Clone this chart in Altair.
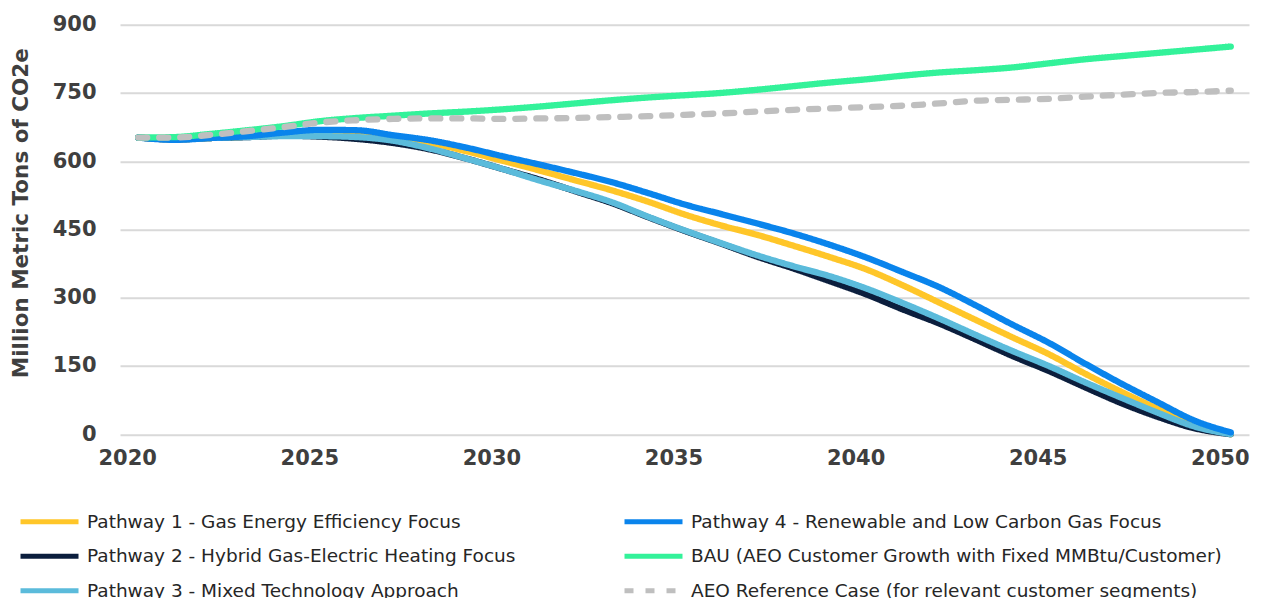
import altair as alt
import pandas as pd

years = list(range(2020, 2051))

p1 = [652, 648, 651, 654, 660, 662, 659, 650, 640, 622, 601, 580, 558, 536, 511, 483,
      459, 438, 414, 389, 362, 327, 289, 251, 213, 176, 133, 93, 56, 24, 0]
p2 = [652, 648, 651, 653, 656, 654, 649, 640, 626, 606, 583, 560, 534, 508, 477, 447,
      419, 390, 364, 336, 307, 274, 243, 208, 172, 139, 103, 68, 38, 13, 0]
p3 = [652, 648, 651, 653, 655, 655, 653, 645, 628, 606, 583, 558, 535, 510, 478, 448,
      420, 393, 369, 347, 320, 288, 254, 218, 183, 150, 114, 80, 47, 17, 0]
p4 = [652, 647, 651, 655, 663, 669, 668, 657, 646, 630, 611, 593, 574, 554, 530, 505,
      484, 463, 441, 416, 388, 356, 323, 283, 241, 201, 155, 111, 70, 30, 4]
bau = [652, 653, 660, 668, 677, 688, 695, 700, 705, 709, 714, 720, 727, 734, 740, 745,
       750, 757, 765, 773, 780, 788, 795, 800, 806, 815, 824, 831, 838, 845, 852]
aeo = [652, 652, 658, 666, 675, 685, 690, 693, 694, 694, 693, 694, 695, 697, 699, 702,
       705, 709, 713, 716, 719, 722, 727, 733, 735, 737, 742, 746, 750, 752, 755]

names = [
    "Pathway 1 - Gas Energy Efficiency Focus",
    "Pathway 2 - Hybrid Gas-Electric Heating Focus",
    "Pathway 3 - Mixed Technology Approach",
    "Pathway 4 - Renewable and Low Carbon Gas Focus",
    "BAU (AEO Customer Growth with Fixed MMBtu/Customer)",
    "AEO Reference Case (for relevant customer segments)",
]
series_values = [p1, p2, p3, p4, bau, aeo]
colors = ["#FFC629", "#0B1E3D", "#5BBBDB", "#0A84EC", "#33F29A", "#BFBFBF"]
dashes = [[1, 0], [1, 0], [1, 0], [1, 0], [1, 0], [9, 12]]

x_ticks = [2020, 2025, 2030, 2035, 2040, 2045, 2050]
y_ticks = [0, 150, 300, 450, 600, 750, 900]

rows = []
for name, vals in zip(names, series_values):
    for yr, v in zip(years, vals):
        rows.append({"year": yr, "value": v, "series": name})
df = pd.DataFrame(rows)

legend_order = names
color_map = dict(zip(names, colors))
dash_map = dict(zip(names, dashes))

FONT = "DejaVu Sans"
AXIS_COLOR = "#3F3F3F"

chart = alt.Chart(df).mark_line(strokeWidth=6.3, strokeCap="round", interpolate="monotone").encode(
    x=alt.X("year:Q",
            scale=alt.Scale(domain=[2019.5, 2050.5], nice=False, zero=False),
            axis=alt.Axis(values=x_ticks, format="d", title=None, grid=False, domain=False,
                          ticks=False, labelFont=FONT, labelFontWeight="bold", labelFontSize=21,
                          labelColor=AXIS_COLOR, labelPadding=13, labelOffset=-11)),
    y=alt.Y("value:Q",
            scale=alt.Scale(domain=[0, 900], nice=False),
            axis=alt.Axis(values=y_ticks, title="Million Metric Tons of CO2e", domain=False,
                          ticks=False, gridColor="#D9D9D9", gridWidth=2,
                          labelFont=FONT, labelFontWeight="bold", labelFontSize=21,
                          labelColor=AXIS_COLOR, labelPadding=24,
                          titleFont=FONT, titleFontWeight="bold", titleFontSize=21.5,
                          titleColor=AXIS_COLOR, titleAngle=-90, titleX=-99, titleY=188,
                          titleAlign="center", titleBaseline="middle")),
    color=alt.Color("series:N",
                    scale=alt.Scale(domain=legend_order, range=[color_map[n] for n in legend_order]),
                    legend=alt.Legend(title=None, orient="none", legendX=-102, legendY=487,
                                      columns=2, columnPadding=106, rowPadding=14.5, clipHeight=20,
                                      symbolType="stroke", symbolSize=3364, symbolStrokeWidth=5,
                                      labelFont=FONT, labelFontSize=18.5, labelColor="#262626",
                                      labelOffset=6, labelLimit=700, padding=0)),
    strokeDash=alt.StrokeDash("series:N",
                              scale=alt.Scale(domain=legend_order, range=[dash_map[n] for n in legend_order]),
                              legend=None),
).properties(
    width=1129,
    height=409.5,
    autosize=alt.AutoSizeParams(type="none"),
    padding={"left": 112, "top": 16.7, "right": 8, "bottom": 170},
).configure_view(stroke=None)

chart.save("out.html", embed_options={"renderer": "svg", "actions": False})
